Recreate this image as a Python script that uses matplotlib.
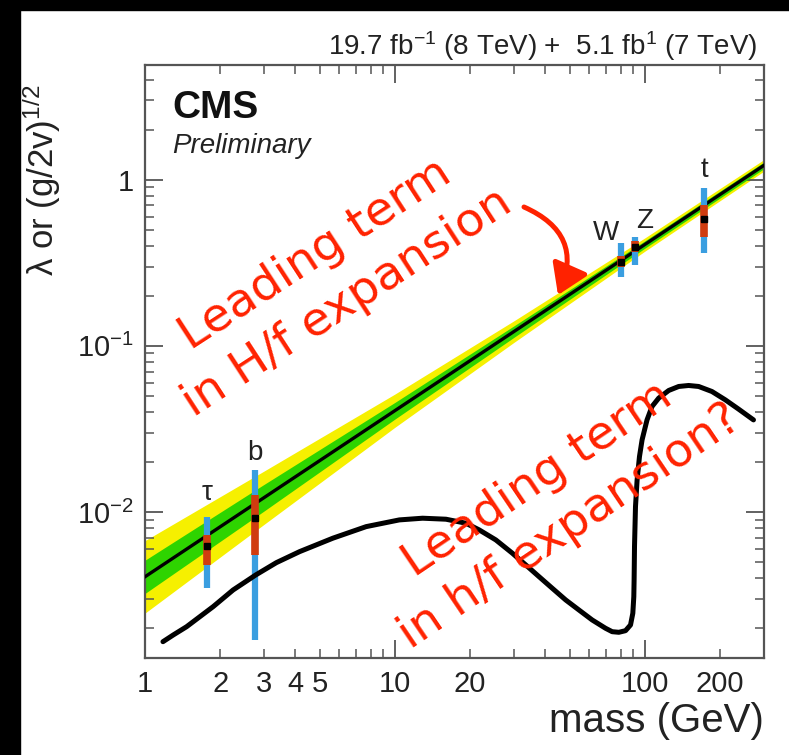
import matplotlib
matplotlib.use("Agg")
import matplotlib.pyplot as plt
from matplotlib.patches import Rectangle, FancyArrowPatch
from matplotlib.ticker import FixedLocator, FuncFormatter

plt.rcParams['font.family'] = ['Liberation Sans', 'DejaVu Sans']
plt.rcParams['mathtext.fontset'] = 'custom'
plt.rcParams['mathtext.rm'] = 'Liberation Sans'
plt.rcParams['mathtext.it'] = 'Liberation Sans:italic'
plt.rcParams['mathtext.bf'] = 'Liberation Sans:bold'

# ---------------- data ----------------
# SM expectation line
line_mass = [1.0, 300.0]
line_val = [0.00407, 1.22]

# fit bands (edges)
band_mass = [1, 3, 10, 30, 100, 300]
yellow_lo = [0.00246, 0.00843, 0.0323, 0.1050, 0.3707, 1.1254]
yellow_hi = [0.00672, 0.01764, 0.0512, 0.1416, 0.4457, 1.3214]
green_lo = [0.00323, 0.01014, 0.0362, 0.1126, 0.3864, 1.1646]
green_hi = [0.00512, 0.01466, 0.0456, 0.1320, 0.4277, 1.2770]

# measured particles
p_names = ['τ', 'b', 'W', 'Z', 't']
p_mass = [1.777, 2.76, 80.4, 91.2, 172.5]
p_val = [0.0062, 0.0092, 0.321, 0.395, 0.58]
p68_lo = [0.00479, 0.0055, 0.300, 0.365, 0.453]
p68_hi = [0.00726, 0.0127, 0.345, 0.425, 0.707]
p95_lo = [0.00348, 0.0017, 0.260, 0.308, 0.363]
p95_hi = [0.0093, 0.0179, 0.417, 0.453, 0.895]

# hand-drawn curve (points read along the stroke)
curve_mass = [1.180, 1.297, 1.467, 1.658, 1.874, 2.252, 2.774, 3.356, 4.157,
              5.645, 7.674, 10.42, 12.91, 16.01, 19.24, 21.75, 25.35, 29.53,
              33.4, 37.74, 42.66, 48.26, 54.5, 61.6, 69.67, 74.05, 78.75,
              83.75, 87.69, 89.57, 90.39, 90.64, 90.97, 91.8, 93.18, 95.24,
              97.55, 102.1, 106.9, 113.7, 124.7, 136.7, 149.8, 164.3, 185.7,
              210.0, 237.3, 272.3]
curve_val = [0.001655, 0.001816, 0.002037, 0.002341, 0.002690, 0.003389,
             0.004173, 0.004951, 0.005767, 0.006946, 0.008154, 0.008951,
             0.009163, 0.009037, 0.008548, 0.007791, 0.006781, 0.005639,
             0.004794, 0.004076, 0.003468, 0.002951, 0.002569, 0.002236,
             0.001993, 0.001901, 0.001885, 0.001928, 0.002087, 0.002454,
             0.00309, 0.003894, 0.00618, 0.01076, 0.01559, 0.02154, 0.02715,
             0.0358, 0.04309, 0.04842, 0.05383, 0.05689, 0.05768, 0.05689,
             0.05306, 0.04727, 0.04157, 0.0358]

x_major = [1, 10, 100]
x_minor_labels = {2: '2', 3: '3', 4: '4', 5: '5', 20: '20', 200: '200'}
y_major = [0.01, 0.1, 1]
y_labels = ['10$^{-2}$', '10$^{-1}$', '1']

W, H = 789, 755
fig = plt.figure(figsize=(W / 100, H / 100), dpi=100)
fig.patch.set_facecolor('white')
# black screen frame (top and left)
fig.patches.append(Rectangle((0, 1 - 10 / H), 1, 10 / H, transform=fig.transFigure,
                             color='black', zorder=0))
fig.patches.append(Rectangle((0, 0), 20 / W, 1, transform=fig.transFigure,
                             color='black', zorder=0))

ax = fig.add_axes([145 / W, 1 - 658 / H, (764 - 145) / W, (658 - 65) / H])
ax.set_xscale('log')
ax.set_yscale('log')
ax.set_xlim(1, 300)
ax.set_ylim(1.32e-3, 4.9)

ax.fill_between(band_mass, yellow_lo, yellow_hi, color='#f6f000', lw=0, zorder=1)
ax.fill_between(band_mass, green_lo, green_hi, color='#2ed400', lw=0, zorder=2)
ax.plot(line_mass, line_val, color='black', lw=2.4, zorder=3)

offsets = [(0, 17), (0, 10), (-15, 3), (10, 9), (0, 11)]
for i, name in enumerate(p_names):
    ax.vlines(p_mass[i], p95_lo[i], p95_hi[i], color='#3a9ee0', lw=4.5, zorder=4)
    ax.vlines(p_mass[i], p68_lo[i], p68_hi[i], color='#d03c10', lw=5.5, zorder=5)
    ax.plot(p_mass[i], p_val[i], marker='s', ms=5, color='black', zorder=6)
    ax.annotate(name, (p_mass[i], p95_hi[i]), xytext=offsets[i],
                textcoords='offset pixels', ha='center', va='baseline',
                fontsize=20, color='#222222', zorder=7)

ax.plot(curve_mass, curve_val, color='black', lw=3.6, zorder=8,
        solid_joinstyle='round', solid_capstyle='round')

# axes style (ROOT-like)
for s in ax.spines.values():
    s.set_color('#555555')
    s.set_linewidth(1.6)
ax.xaxis.set_major_locator(FixedLocator(x_major))
ax.xaxis.set_major_formatter(FuncFormatter(lambda v, p: '%g' % v))
ax.xaxis.set_minor_formatter(FuncFormatter(
    lambda v, p: x_minor_labels.get(int(round(v)), '') if abs(v - round(v)) < 1e-6 else ''))
ax.set_yticks(y_major)
ax.set_yticklabels(y_labels)
ax.tick_params(which='both', direction='in', top=True, right=True,
               color='#555555', labelcolor='#222222', labelsize=21)
ax.tick_params(which='major', length=13, width=1.3)
ax.tick_params(which='minor', length=6.5, width=1.1)
ax.tick_params(axis='x', which='both', pad=9)
ax.tick_params(axis='y', which='both', pad=8)

# texts
fig.text(757 / W, 1 - 55 / H, '19.7 fb$^{-1}$ (8 TeV) +  5.1 fb$^{1}$ (7 TeV)',
         ha='right', va='baseline', fontsize=20, color='#222222')
fig.text(172 / W, 1 - 118 / H, 'CMS', ha='left', va='baseline', fontsize=28,
         fontweight='bold', color='#111111')
fig.text(172 / W, 1 - 153 / H, 'Preliminary', ha='left', va='baseline',
         fontsize=20, fontstyle='italic', color='#222222')
fig.text(764 / W, 1 - 732 / H, 'mass (GeV)', ha='right', va='baseline',
         fontsize=29, color='#222222')
fig.text(42 / W, 1 - 85 / H, 'λ or (g/2v)$^{1/2}$', rotation=90, ha='center',
         va='top', fontsize=25, color='#222222')

red = '#ff2200'
fig.text(0.420, 0.631, 'Leading term\nin H/f expansion', rotation=33,
         rotation_mode='anchor', ha='center', va='center', fontsize=34,
         family='DejaVu Sans', color=red, linespacing=1.35, zorder=10)
fig.text(0.702, 0.333, 'Leading term\nin h/f expansion?', rotation=34,
         rotation_mode='anchor', ha='center', va='center', fontsize=34,
         family='DejaVu Sans', color=red, linespacing=1.35, zorder=10)

arrow = FancyArrowPatch((524 / W, 1 - 207 / H), (558 / W, 1 - 295 / H),
                        transform=fig.transFigure, connectionstyle='arc3,rad=-0.5',
                        arrowstyle='-|>,head_length=0.9,head_width=0.58',
                        mutation_scale=20, lw=3.6, color=red, shrinkA=0, shrinkB=0,
                        zorder=10)
fig.patches.append(arrow)

fig.savefig('out.png', dpi=100, facecolor='white')
